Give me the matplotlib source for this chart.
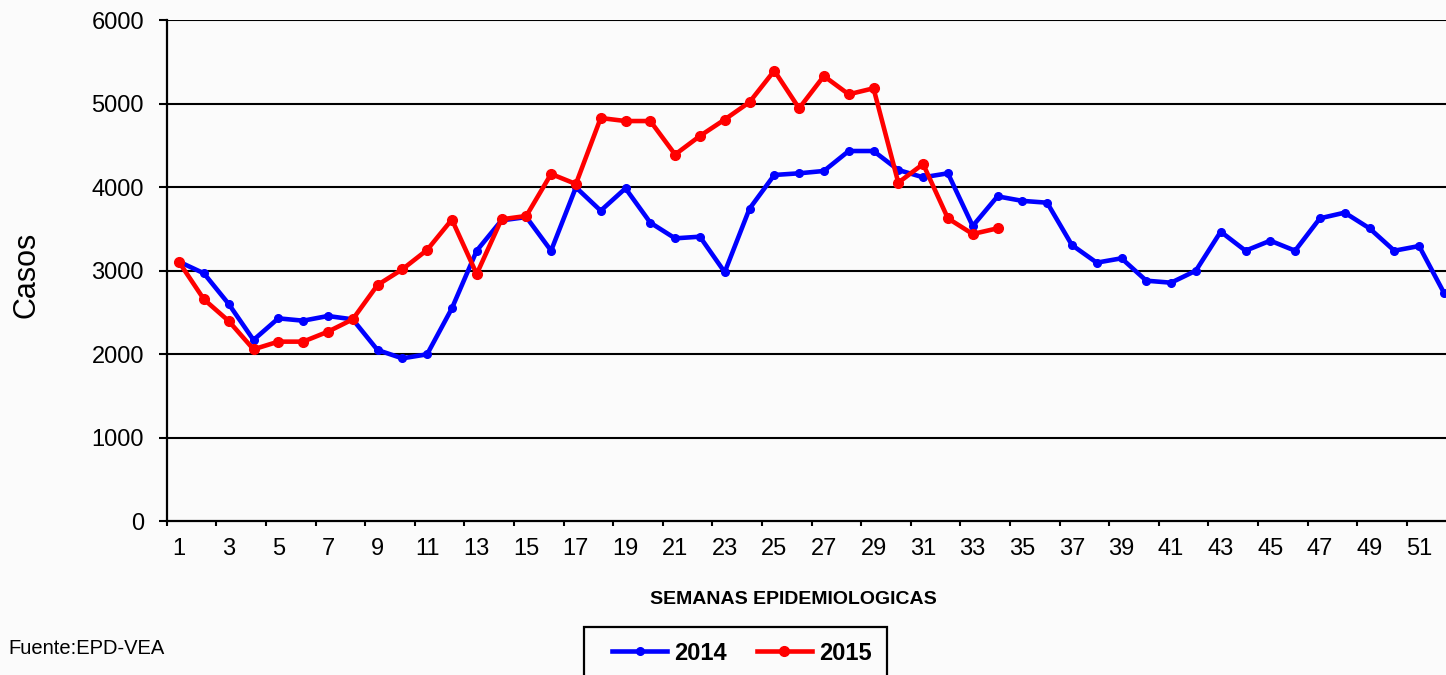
import matplotlib.pyplot as plt
from matplotlib.patches import Rectangle
from matplotlib.ticker import FixedLocator, NullFormatter, FixedFormatter

weeks_2014 = list(range(1, 53))
casos_2014 = [3105, 2966, 2599, 2168, 2427, 2399, 2455, 2415, 2048, 1948,
              1996, 2547, 3237, 3600, 3640, 3237, 3996, 3716, 3984, 3573,
              3385, 3405, 2980, 3740, 4144, 4164, 4192, 4431, 4431, 4204,
              4116, 4164, 3533, 3888, 3834, 3812, 3305, 3094, 3146, 2878,
              2854, 2998, 3465, 3237, 3357, 3237, 3625, 3693, 3505, 3237,
              3293, 2734]

weeks_2015 = list(range(1, 35))
casos_2015 = [3100, 2655, 2395, 2056, 2148, 2148, 2267, 2415, 2826, 3014,
              3246, 3610, 2958, 3613, 3653, 4156, 4036, 4826, 4790, 4790,
              4389, 4611, 4808, 5016, 5393, 4942, 5329, 5110, 5182, 4052,
              4275, 3625, 3437, 3505]

y_ticks = [0, 1000, 2000, 3000, 4000, 5000, 6000]
x_labels = list(range(1, 53, 2))

plt.rcParams['font.family'] = ['Liberation Sans', 'DejaVu Sans']

W, H = 1446, 675
fig = plt.figure(figsize=(W / 100, H / 100), dpi=100)
fig.patch.set_facecolor('#fbfbfb')
ax = fig.add_axes([166.7 / W, 1 - 521 / H, 1 - 166.7 / W, (521 - 20) / H])
ax.set_facecolor('none')

for y in y_ticks[1:]:
    ax.axhline(y, color='black', lw=1.5, zorder=1)

ax.plot(weeks_2014, casos_2014, color='#0000ff', lw=3.3, marker='o', ms=5.5,
        label='2014', zorder=3, clip_on=False)
ax.plot(weeks_2015, casos_2015, color='#ff0000', lw=3.3, marker='o', ms=7,
        label='2015', zorder=4)

ax.set_xlim(0.5, 0.5 + (W - 166.7) / 24.8)
ax.set_ylim(0, 6000)
ax.set_yticks(y_ticks)
ax.tick_params(axis='y', length=5.8, width=1.5, labelsize=17, pad=10.5)

ax.xaxis.set_major_locator(FixedLocator([k + 0.5 for k in range(0, 53, 2)]))
ax.xaxis.set_major_formatter(NullFormatter())
ax.xaxis.set_minor_locator(FixedLocator(x_labels))
ax.xaxis.set_minor_formatter(FixedFormatter([str(v) for v in x_labels]))
ax.tick_params(axis='x', which='major', length=3.6, width=1.5)
ax.tick_params(axis='x', which='minor', length=0, labelsize=17, pad=12.5)

for s in ['top', 'right']:
    ax.spines[s].set_visible(False)
for s in ['left', 'bottom']:
    ax.spines[s].set_linewidth(1.6)

fig.text(27 / W, 1 - 275 / H, 'Casos', rotation=90, fontsize=22,
         ha='center', va='center')
fig.text(793 / W, 1 - 600 / H, 'SEMANAS EPIDEMIOLOGICAS', fontsize=14,
         fontweight='bold', ha='center', va='center')
fig.text(8 / W, 1 - 648 / H, 'Fuente:EPD-VEA', fontsize=14.5,
         ha='left', va='center')

# legend box (frame drawn separately, it runs past the bottom edge)
fig.patches.append(Rectangle((584 / W, -0.05), (887 - 584) / W,
                             0.05 + 1 - 627 / H, transform=fig.transFigure,
                             fill=False, edgecolor='black', lw=1.6))
leg = fig.legend(loc='center left', bbox_to_anchor=(612 / W, 1 - 653 / H),
                 ncol=2, frameon=False, prop={'weight': 'bold', 'size': 17},
                 handlelength=2.35, columnspacing=1.25, handletextpad=0.3,
                 borderpad=0, borderaxespad=0)

fig.savefig('out.png', dpi=100, facecolor=fig.get_facecolor())
